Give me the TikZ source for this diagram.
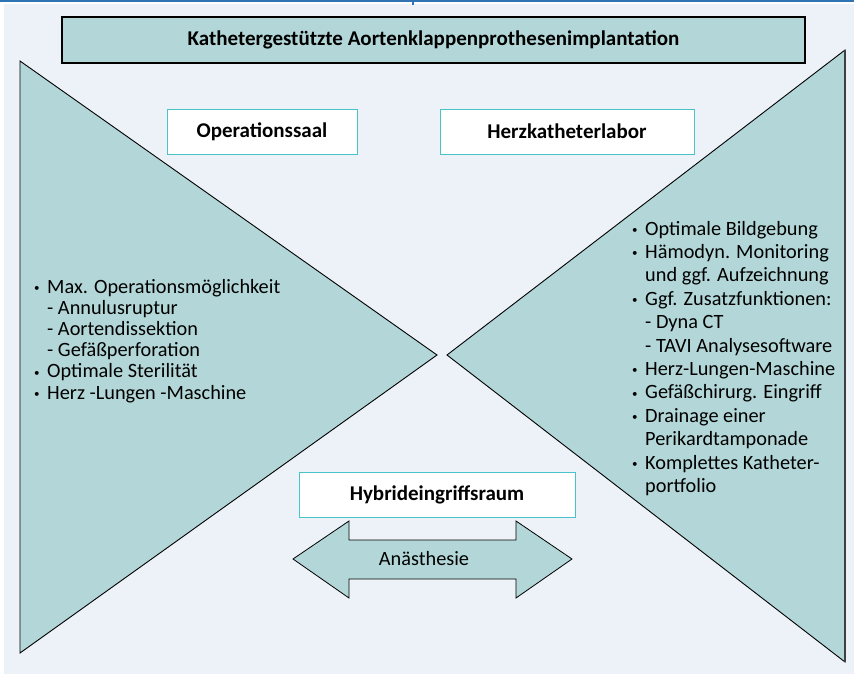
\documentclass[tikz,border=0pt]{standalone}
\usepackage{fontspec}
\setmainfont{Carlito}
\usepackage{tikz}
\usetikzlibrary{positioning}
\usepackage{xcolor}
\definecolor{tealfill}{RGB}{179,215,216}
\definecolor{paneblue}{RGB}{237,242,249}
\definecolor{rulerblue}{RGB}{46,116,181}
\definecolor{boxcyan}{RGB}{72,196,200}
\newcommand{\bul}{\llap{\raisebox{1.5pt}{\fontsize{11}{11}\selectfont\textbullet}\hspace{7.5pt}}}

\begin{document}
\begin{tikzpicture}[
  x=1pt, y=-1pt,
  headbox/.style={draw=boxcyan, line width=0.9pt, fill=white, font=\fontsize{21}{24}\selectfont\bfseries, inner sep=0pt, minimum height=45pt},
  titlebox/.style={draw=black, line width=1.1pt, fill=tealfill, font=\fontsize{21}{24}\selectfont\bfseries, inner sep=0pt, minimum width=743pt, minimum height=46pt},
  wedge/.style={draw=black, line width=0.9pt, fill=tealfill},
  listtext/.style={font=\fontsize{20.3}{24}\selectfont, inner sep=0pt, anchor=base west},
]
\useasboundingbox (0,0) rectangle (854,674);
\fill[paneblue] (4,4) rectangle (854,674);
\draw[rulerblue, line width=2.5pt] (0,1.2) -- (854,1.2);
\draw[rulerblue, line width=1.5pt] (413,0) -- (413,5);

% the two wedges
\draw[wedge] (20,61) -- (437,355) -- (20,653) -- cycle;
\draw[wedge] (845,50) -- (447,355) -- (845,662) -- cycle;
\draw[line width=2pt, black!75] (845,50) -- (845,662);

\node[titlebox] (title) at (433.5,40) {Kathetergestützte Aortenklappenprothesenimplantation};
\node[headbox, minimum width=190pt] (op) at (262,131.5) {Operationssaal};
\node[headbox, minimum width=254pt] (hkl) at (567,131.5) {Herzkatheterlabor};
\node[headbox, minimum width=276pt] (hybrid) at (437,494.5) {Hybrideingriffsraum};

% anaesthesia double arrow
\draw[wedge, line width=0.8pt] (293,559) -- (349,521) -- (349,540) -- (516,540) -- (516,521)
  -- (572,559) -- (516,598) -- (516,579) -- (349,579) -- (349,598) -- cycle;
\node[font=\fontsize{20.3}{24}\selectfont] (anae) at (424,559) {Anästhesie};

% operating room list
\foreach \txt [count=\i] in {{\bul Max. Operationsmöglichkeit}, {- Annulusruptur},
    {- Aortendissektion}, {- Gefäßperforation}, {\bul Optimale Sterilität},
    {\bul Herz -Lungen -Maschine}}
  \node[listtext] (or\i) at (47,293+21.2*\i-21.2) {\txt};

% cath lab list
\foreach \txt [count=\i] in {{\bul Optimale Bildgebung}, {\bul Hämodyn. Monitoring},
    {und ggf. Aufzeichnung}, {\bul Ggf. Zusatzfunktionen:}, {- Dyna CT},
    {- TAVI Analysesoftware}, {\bul Herz-Lungen-Maschine}, {\bul Gefäßchirurg. Eingriff},
    {\bul Drainage einer}, {Perikardtamponade}, {\bul Komplettes Katheter-}, {portfolio}}
  \node[listtext] (cl\i) at (645,235+23.4*\i-23.4) {\txt};
\end{tikzpicture}
\end{document}
